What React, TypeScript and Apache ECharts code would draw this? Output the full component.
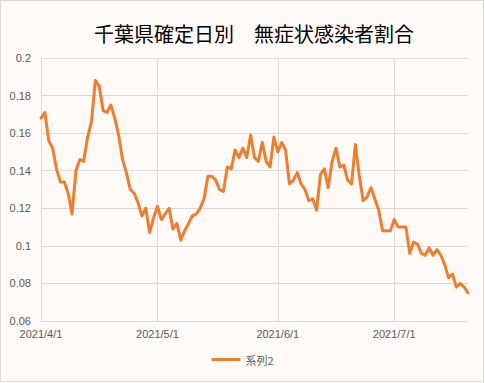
import React, { useEffect, useRef } from "react";
import * as echarts from "echarts";

const titleText = "千葉県確定日別　無症状感染者割合";
const seriesName = "系列2";
const startDate = { y: 2021, m: 4, d: 1 };
const dayCount = 111;

// daily ratio from 2021/4/1 to 2021/7/20
const values: number[] = [
  0.168, 0.171, 0.156, 0.152, 0.141, 0.134, 0.134, 0.128, 0.117, 0.140,
  0.146, 0.145, 0.158, 0.166, 0.188, 0.185, 0.172, 0.171, 0.175, 0.168,
  0.159, 0.146, 0.139, 0.130, 0.128, 0.123, 0.116, 0.120, 0.107, 0.115,
  0.121, 0.114, 0.117, 0.120, 0.109, 0.112, 0.103, 0.108, 0.112, 0.116,
  0.117, 0.120, 0.125, 0.137, 0.137, 0.135, 0.130, 0.129, 0.142, 0.141,
  0.151, 0.147, 0.152, 0.147, 0.159, 0.147, 0.145, 0.155, 0.145, 0.142,
  0.158, 0.150, 0.155, 0.151, 0.133, 0.135, 0.139, 0.133, 0.130, 0.124,
  0.125, 0.119, 0.138, 0.141, 0.131, 0.145, 0.152, 0.142, 0.143, 0.135,
  0.133, 0.154, 0.137, 0.124, 0.126, 0.131, 0.125, 0.119, 0.108, 0.108,
  0.108, 0.114, 0.110, 0.110, 0.110, 0.096, 0.102, 0.101, 0.096, 0.095,
  0.099, 0.095, 0.098, 0.095, 0.090, 0.083, 0.085, 0.078, 0.080, 0.078,
  0.075,
];

const yMin = 0.06;
const yMax = 0.2;
const yStep = 0.02;

function buildDates(): string[] {
  const out: string[] = [];
  const base = new Date(startDate.y, startDate.m - 1, startDate.d);
  for (let i = 0; i < dayCount; i++) {
    const d = new Date(base.getTime());
    d.setDate(base.getDate() + i);
    out.push(`${d.getFullYear()}/${d.getMonth() + 1}/${d.getDate()}`);
  }
  return out;
}

const categories = buildDates();

export default function App() {
  const ref = useRef<HTMLDivElement>(null);
  useEffect(() => {
    document.body.style.margin = "0";
    if (!ref.current) return;
    const chart = echarts.init(ref.current, undefined, { renderer: "svg" });
    const isMonthStart = (_i: number, v: string) => /\/1$/.test(v);
    const labelColor = "#595959";
    const gridColor = "#d9d9d9";
    const font = "'Noto Sans CJK JP', 'Liberation Sans', sans-serif";
    chart.setOption({
      animation: false,
      backgroundColor: "#fffaf5",
      title: {
        text: titleText,
        left: 94,
        top: 23,
        padding: 0,
        textStyle: {
          fontSize: 20,
          fontWeight: "normal",
          color: "#000",
          fontFamily: font,
        },
      },
      graphic: [
        {
          type: "rect",
          shape: { x: 0.5, y: 0.5, width: 483, height: 381 },
          style: { fill: "none", stroke: gridColor, lineWidth: 1 },
          silent: true,
        },
      ],
      legend: {
        bottom: 13,
        left: "center",
        icon: "rect",
        itemWidth: 29,
        itemHeight: 3,
        itemGap: 10,
        textStyle: { color: labelColor, fontSize: 11, fontFamily: font },
        data: [seriesName],
      },
      grid: { left: 41, right: 17, top: 58, bottom: 62 },
      xAxis: {
        type: "category",
        data: categories,
        boundaryGap: false,
        axisLine: { show: true, lineStyle: { color: gridColor, width: 1 } },
        axisTick: { show: false },
        axisLabel: {
          interval: isMonthStart,
          color: labelColor,
          fontSize: 11,
          margin: 7,
          fontFamily: "'Liberation Sans', sans-serif",
        },
        splitLine: {
          show: true,
          interval: isMonthStart,
          lineStyle: { color: gridColor, width: 1 },
        },
      },
      yAxis: {
        type: "value",
        min: yMin,
        max: yMax,
        interval: yStep,
        axisLine: { show: true, lineStyle: { color: gridColor, width: 1 } },
        axisTick: { show: false },
        axisLabel: {
          color: labelColor,
          fontSize: 11,
          margin: 10,
          fontFamily: "'Liberation Sans', sans-serif",
          formatter: (v: number) => String(+v.toFixed(2)),
        },
        splitLine: { show: true, lineStyle: { color: gridColor, width: 1 } },
      },
      series: [
        {
          name: seriesName,
          type: "line",
          data: values,
          symbol: "none",
          color: "#ed7d31",
          lineStyle: { color: "#ed7d31", width: 3, cap: "round", join: "round" },
        },
      ],
    });
    return () => chart.dispose();
  }, []);
  return (
    <div
      ref={ref}
      style={{ position: "fixed", left: 0, top: 0, width: 485, height: 383 }}
    />
  );
}
